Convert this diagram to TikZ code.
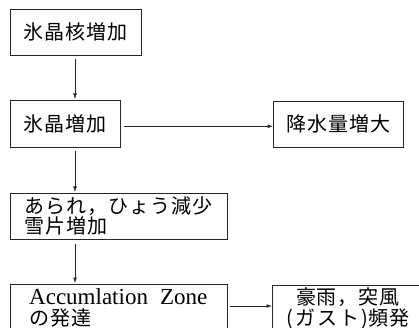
\documentclass[tikz,border=0pt]{standalone}
\usepackage{fontspec}
\setmainfont{Liberation Serif}
\newfontfamily\jp{Noto Sans CJK JP}[LetterSpace=5]
\usetikzlibrary{arrows.meta,calc}
\begin{document}
\begin{tikzpicture}[x=1pt,y=-1pt,
  box/.style={draw=black!85, line width=0.6pt, rectangle, inner sep=0pt, anchor=north west,
    font=\jp\fontsize{20}{20}\selectfont},
  txt/.style={inner sep=0pt, anchor=north west, align=left, font=\jp\fontsize{20}{20}\selectfont},
  arr/.style={draw=black!85, line width=0.6pt, -{Latex[length=5.5pt,width=3.8pt]}}]
\useasboundingbox (0,0) rectangle (419,328);
\clip (0,0) rectangle (419,328);
\node[box, minimum width=131pt, minimum height=46pt] (b1) at (10,9) {氷晶核増加};
\node[box, minimum width=110pt, minimum height=47pt] (b2) at (10,100) {氷晶増加};
\node[box, minimum width=130pt, minimum height=46pt] (b3) at (273,101) {降水量増大};
\node[box, minimum width=217pt, minimum height=46pt, text width=217pt, align=left] (b4) at (10,193)
  {\hspace*{14pt}あられ，ひょう減少\\\hspace*{14pt}雪片増加};
\node[box, minimum width=217pt, minimum height=70pt] (b5) at (10,284) {};
\node[box, minimum width=152pt, minimum height=70pt] (b6) at (272,285) {};
\node[txt] (t5) at (29,288) {{\rmfamily\fontsize{23}{20}\selectfont Accumlation\hspace{12pt}Zone}\\[1pt]の発達};
\node[txt, align=center, anchor=north] (t6) at (348,287) {豪雨，突風\\[1pt](\hspace{2pt}ガ\hspace{2pt}ス\hspace{2pt}ト\hspace{2pt})頻発};
\draw[arr] ([xshift=65pt,yshift=-3pt]b1.south west) -- ([xshift=65pt,yshift=1pt]b2.north west);
\draw[arr] ([xshift=3pt,yshift=-2.5pt]b2.east) -- ([yshift=-2pt]b3.west);
\draw[arr] ([xshift=65pt,yshift=-3pt]b2.south west) -- ([xshift=65pt,yshift=1pt]b4.north west);
\draw[arr] ([xshift=65pt,yshift=-4pt]b4.south west) -- ([xshift=65pt,yshift=1pt]b5.north west);
\draw[arr] ([xshift=2pt,yshift=-22pt]b5.north east) -- ([yshift=-21pt]b6.north west);
\end{tikzpicture}
\end{document}
